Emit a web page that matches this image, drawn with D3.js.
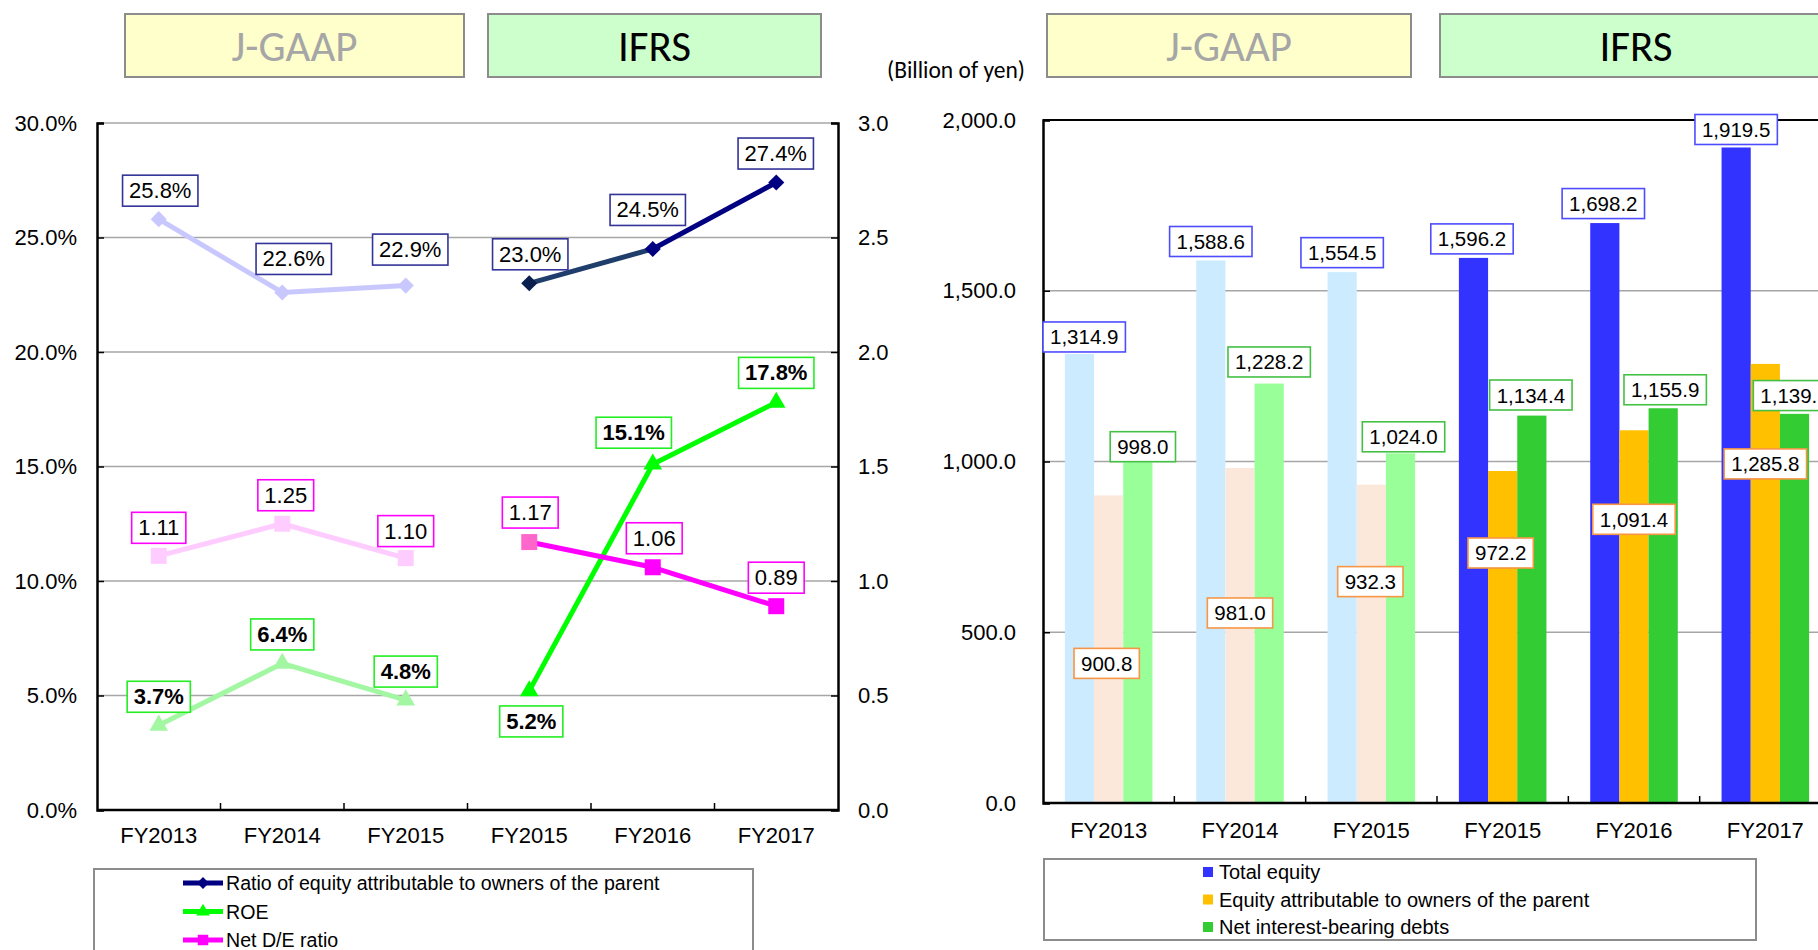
<!DOCTYPE html>
<html>
<head>
<meta charset="utf-8">
<script src="https://cdn.jsdelivr.net/npm/d3@7/dist/d3.min.js"></script>
<style>
  html, body { margin: 0; padding: 0; background: #fff; }
  svg { display: block; }
  text { font-family: "Liberation Sans", Arial, sans-serif; }
  .hdr { font-family: Calibri, Carlito, Lato, sans-serif; }
</style>
</head>
<body>
<svg id="chart" width="1818" height="950"></svg>
<script>
// ---- data -------------------------------------------------------------
const categories = ["FY2013", "FY2014", "FY2015", "FY2015", "FY2016", "FY2017"];
const standards  = ["J-GAAP", "J-GAAP", "J-GAAP", "IFRS", "IFRS", "IFRS"];

// ratios (left panel)
const equityRatio = [25.8, 22.6, 22.9, 23.0, 24.5, 27.4];   // %
const roe         = [3.7, 6.4, 4.8, 5.2, 15.1, 17.8];        // %
const netDERatio  = [1.11, 1.25, 1.10, 1.17, 1.06, 0.89];    // times

// balances (right panel, billion of yen)
const totalEquity  = [1314.9, 1588.6, 1554.5, 1596.2, 1698.2, 1919.5];
const ownersEquity = [900.8, 981.0, 932.3, 972.2, 1091.4, 1285.8];
const netDebts     = [998.0, 1228.2, 1024.0, 1134.4, 1155.9, 1139.5];

const pctTicks   = [0, 5, 10, 15, 20, 25, 30];
const timesTicks = [0, 0.5, 1.0, 1.5, 2.0, 2.5, 3.0];
const yenTicks   = [0, 500, 1000, 1500, 2000];

const lineLegend = ["Ratio of equity attributable to owners of the parent", "ROE", "Net D/E ratio"];
const barLegend  = ["Total equity", "Equity attributable to owners of the parent", "Net interest-bearing debts"];

// ---- layout / style ----------------------------------------------------
const svg = d3.select("#chart");
svg.append("rect").attr("width", 1818).attr("height", 950).attr("fill", "#fff");

const idx = d3.range(categories.length);
const fmtPct = v => d3.format(".1f")(v) + "%";
const fmtTimes = d3.format(".2f");
const fmtYen = d3.format(",.1f");

function header(x0, x1, y0, y1, label, fill, color) {
  svg.append("rect").attr("x", x0).attr("y", y0).attr("width", x1 - x0).attr("height", y1 - y0)
    .attr("fill", fill).attr("stroke", "#8c8c8c").attr("stroke-width", 2);
  svg.append("text").attr("class", "hdr").attr("x", (x0 + x1) / 2).attr("y", (y0 + y1) / 2 + 1)
    .attr("text-anchor", "middle").attr("dominant-baseline", "central")
    .attr("font-size", 43).attr("fill", color).text(label);
}

// label box: white rect with coloured outline, text centred at (cx, cy)
function labelBox(g, cx, cy, txt, stroke, opts) {
  const o = Object.assign({ size: 22, bold: false, padX: 6.5, h: 31 }, opts || {});
  const grp = g.append("g");
  const rect = grp.append("rect");
  const t = grp.append("text").attr("x", cx).attr("y", cy)
    .attr("text-anchor", "middle").attr("dominant-baseline", "central")
    .attr("font-size", o.size).attr("font-weight", o.bold ? "bold" : "normal")
    .attr("fill", "#000").text(txt);
  const w = t.node().getComputedTextLength() + 2 * o.padX;
  let left = cx - w / 2;
  if (o.minLeft !== undefined && left < o.minLeft) {
    left = o.minLeft;
    t.attr("x", left + w / 2);
  }
  rect.attr("x", left).attr("y", cy - o.h / 2).attr("width", w).attr("height", o.h)
    .attr("fill", "#fff").attr("stroke", stroke).attr("stroke-width", 1.6);
}

// ======================= LEFT PANEL: ratios =============================
header(125, 464, 14, 77, "J-GAAP", "#FFFFCC", "#A6A6A6");
header(488, 821, 14, 77, "IFRS", "#CCFFCC", "#000");

const L = { left: 97, right: 838, top: 123, bottom: 810 };
const xL = d3.scaleBand().domain(idx).range([L.left, L.right]);
const cxL = i => xL(i) + xL.bandwidth() / 2;
const yPct = d3.scaleLinear().domain([0, 30]).range([L.bottom, L.top]);
const yTimes = d3.scaleLinear().domain([0, 3]).range([L.bottom, L.top]);

const gl = svg.append("g");
// horizontal gridlines
gl.append("g").selectAll("line").data(pctTicks.filter(d => d > 0)).join("line")
  .attr("x1", L.left).attr("x2", L.right)
  .attr("y1", d => yPct(d)).attr("y2", d => yPct(d))
  .attr("stroke", "#a6a6a6").attr("stroke-width", 1.6);

// axes
const axL = gl.append("g").attr("transform", `translate(${L.left},0)`)
  .call(d3.axisLeft(yPct).tickValues(pctTicks).tickFormat(d => d3.format(".1f")(d) + "%")
    .tickSize(-7).tickPadding(20));
const axR = gl.append("g").attr("transform", `translate(${L.right},0)`)
  .call(d3.axisRight(yTimes).tickValues(timesTicks).tickFormat(d3.format(".1f"))
    .tickSize(-7).tickPadding(20));
const axB = gl.append("g").attr("transform", `translate(0,${L.bottom})`)
  .call(d3.axisBottom(xL).tickFormat(i => categories[i]).tickSize(0).tickPadding(17));
[axL, axR, axB].forEach(a => {
  a.select(".domain").attr("stroke", "#000").attr("stroke-width", 2.5);
  a.selectAll(".tick line").attr("stroke", "#000").attr("stroke-width", 1.5);
  a.selectAll("text").attr("font-size", 22).attr("fill", "#000")
    .style("font-family", '"Liberation Sans", Arial, sans-serif');
});
axB.select(".domain").attr("d", `M${L.left},0H${L.right}`);
// category dividers on the bottom axis
gl.append("g").selectAll("line").data(idx.slice(1)).join("line")
  .attr("x1", i => xL(i)).attr("x2", i => xL(i))
  .attr("y1", L.bottom).attr("y2", L.bottom - 7)
  .attr("stroke", "#000").attr("stroke-width", 1.5);

// series styles
const seriesL = [
  { values: equityRatio, y: yPct, fmt: fmtPct, bold: false, box: "#333399",
    seg: ["#C8C8FF", "#C8C8FF", null, "#1F3E6B", "#000080"],
    pt: ["#C8C8FF", "#C8C8FF", "#C8C8FF", "#0A1F4D", "#000080", "#000080"],
    symbol: d3.symbolSquare, size: 130, rotate: 45,
    shift: [[1.5, -28.5], [11.5, -33.5], [4.5, -36], [1, -29], [-5, -39], [-0.5, -29]] },
  { values: roe, y: yPct, fmt: fmtPct, bold: true, box: "#22EE22",
    seg: ["#A3F7A3", "#A3F7A3", null, "#00FF00", "#00FF00"],
    pt: ["#A3F7A3", "#A3F7A3", "#A3F7A3", "#00FF00", "#00FF00", "#00FF00"],
    symbol: d3.symbolTriangle, size: 150, rotate: 0,
    shift: [[0, -28.5], [0, -29], [0, -28.5], [2, 30.5], [-19, -31.5], [0, -29.5]] },
  { values: netDERatio, y: yTimes, fmt: fmtTimes, bold: false, box: "#FF00FF",
    seg: ["#FFCCFF", "#FFCCFF", null, "#FF00FF", "#FF00FF"],
    pt: ["#FFCCFF", "#FFCCFF", "#FFCCFF", "#FF66CC", "#FF00FF", "#FF00FF"],
    symbol: d3.symbolSquare, size: 256, rotate: 0,
    shift: [[0, -28], [3.5, -28.5], [0, -27], [1, -29.5], [1.5, -29], [0, -28.5]] }
];

const lineGen = d3.line();
const gLines = svg.append("g");
seriesL.forEach(s => {
  idx.slice(0, -1).forEach(i => {
    if (!s.seg[i]) return;
    gLines.append("path")
      .attr("d", lineGen([[cxL(i), s.y(s.values[i])], [cxL(i + 1), s.y(s.values[i + 1])]]))
      .attr("fill", "none").attr("stroke", s.seg[i]).attr("stroke-width", 5);
  });
  idx.forEach(i => {
    gLines.append("path")
      .attr("d", d3.symbol(s.symbol, s.size)())
      .attr("transform", `translate(${cxL(i)},${s.y(s.values[i])}) rotate(${s.rotate})`)
      .attr("fill", s.pt[i]);
  });
});
const gLabL = svg.append("g");
seriesL.forEach(s => {
  idx.forEach(i => {
    labelBox(gLabL, cxL(i) + s.shift[i][0], s.y(s.values[i]) + s.shift[i][1],
      s.fmt(s.values[i]), s.box, { size: 22, bold: s.bold, padX: 6.5, h: 31 });
  });
});

// legend (left)
const lgL = svg.append("g");
lgL.append("rect").attr("x", 94).attr("y", 869).attr("width", 659).attr("height", 100)
  .attr("fill", "#fff").attr("stroke", "#8c8c8c").attr("stroke-width", 2);
const legendSeries = [
  { color: "#000080", symbol: d3.symbolSquare, size: 70, rotate: 45 },
  { color: "#00FF00", symbol: d3.symbolTriangle, size: 80, rotate: 0 },
  { color: "#FF00FF", symbol: d3.symbolSquare, size: 110, rotate: 0 }
];
lineLegend.forEach((name, k) => {
  const yy = 883 + k * 28.5;
  const st = legendSeries[k];
  lgL.append("line").attr("x1", 183).attr("x2", 223).attr("y1", yy).attr("y2", yy)
    .attr("stroke", st.color).attr("stroke-width", 5);
  lgL.append("path").attr("d", d3.symbol(st.symbol, st.size)())
    .attr("transform", `translate(203,${yy}) rotate(${st.rotate})`).attr("fill", st.color);
  lgL.append("text").attr("x", 226).attr("y", yy).attr("dominant-baseline", "central")
    .attr("font-size", 19.6).attr("fill", "#000").text(name);
});

// ======================= RIGHT PANEL: balances ==========================
header(1047, 1411, 14, 77, "J-GAAP", "#FFFFCC", "#A6A6A6");
header(1440, 1832, 14, 77, "IFRS", "#CCFFCC", "#000");
svg.append("text").attr("class", "hdr").attr("x", 887).attr("y", 70)
  .attr("dominant-baseline", "central").attr("font-size", 23.5).attr("fill", "#000")
  .text("(Billion of yen)");

const R = { left: 1043, right: 1831, top: 120, bottom: 803 };
const xR = d3.scaleBand().domain(idx).range([R.left, R.right]);
const xSub = d3.scaleBand().domain([0, 1, 2]).range([0, xR.bandwidth()]).paddingInner(0).paddingOuter(0.75);
const yYen = d3.scaleLinear().domain([0, 2000]).range([R.bottom, R.top]);

const gr = svg.append("g");
gr.append("g").selectAll("line").data(yenTicks.filter(d => d > 0 && d < 2000)).join("line")
  .attr("x1", R.left).attr("x2", R.right)
  .attr("y1", d => yYen(d)).attr("y2", d => yYen(d))
  .attr("stroke", "#a6a6a6").attr("stroke-width", 1.6);
gr.append("line").attr("x1", R.left).attr("x2", R.right)
  .attr("y1", yYen(2000)).attr("y2", yYen(2000)).attr("stroke", "#000").attr("stroke-width", 2);

const barSeries = [
  { values: totalEquity,  fill: ["#CCEBFF", "#3333FF"], box: "#4D4DFF" },
  { values: ownersEquity, fill: ["#FCE8DA", "#FFC000"], box: "#F79646" },
  { values: netDebts,     fill: ["#99FF99", "#33CC33"], box: "#44C044" }
];
const gBars = gr.append("g");
barSeries.forEach((s, k) => {
  gBars.selectAll(null).data(idx).join("rect")
    .attr("x", i => xR(i) + xSub(k))
    .attr("y", i => yYen(s.values[i]))
    .attr("width", xSub.bandwidth())
    .attr("height", i => yYen(0) - yYen(s.values[i]))
    .attr("fill", i => standards[i] === "IFRS" ? s.fill[1] : s.fill[0]);
});

const axRL = gr.append("g").attr("transform", `translate(${R.left},0)`)
  .call(d3.axisLeft(yYen).tickValues(yenTicks).tickFormat(fmtYen).tickSize(-7).tickPadding(27));
const axRB = gr.append("g").attr("transform", `translate(0,${R.bottom})`)
  .call(d3.axisBottom(xR).tickFormat(i => categories[i]).tickSize(0).tickPadding(19));
[axRL, axRB].forEach(a => {
  a.select(".domain").attr("stroke", "#000").attr("stroke-width", 2.5);
  a.selectAll(".tick line").attr("stroke", "#000").attr("stroke-width", 1.5);
  a.selectAll("text").attr("font-size", 22).attr("fill", "#000")
    .style("font-family", '"Liberation Sans", Arial, sans-serif');
});
axRB.select(".domain").attr("d", `M${R.left},0H${R.right}`);
gr.append("g").selectAll("line").data(idx.slice(1)).join("line")
  .attr("x1", i => xR(i)).attr("x2", i => xR(i))
  .attr("y1", R.bottom).attr("y2", R.bottom - 7)
  .attr("stroke", "#000").attr("stroke-width", 1.5);

// value labels on bars
const totalShift = [[0, -17], [0, -19], [0, -19.5], [-1.5, -19], [-1.5, -19.5], [0, -18]];
const ownersShift = [[-2, 168], [0, 145], [-1, 97], [-2, 82], [0, 89], [0, 100]];
const debtsShift = [[5, -15.5], [0, -21.6], [3, -16.5], [-1, -20.6], [2, -18.5], [0, -18.3]];
const shifts = [totalShift, ownersShift, debtsShift];
const gLabR = gr.append("g");
barSeries.forEach((s, k) => {
  idx.forEach(i => {
    const cx = xR(i) + xSub(k) + xSub.bandwidth() / 2 + shifts[k][i][0];
    const cy = yYen(s.values[i]) + shifts[k][i][1];
    labelBox(gLabR, cx, cy, fmtYen(s.values[i]), s.box,
      { size: 20.5, padX: 7, h: 30, minLeft: R.left });
  });
});

// legend (right)
const lgR = svg.append("g");
lgR.append("rect").attr("x", 1044).attr("y", 859).attr("width", 712).attr("height", 81)
  .attr("fill", "#fff").attr("stroke", "#8c8c8c").attr("stroke-width", 2);
const swatch = ["#3333FF", "#FFC000", "#33CC33"];
barLegend.forEach((name, k) => {
  const yy = 872 + k * 27.5;
  lgR.append("rect").attr("x", 1203).attr("y", yy - 5).attr("width", 10).attr("height", 10)
    .attr("fill", swatch[k]);
  lgR.append("text").attr("x", 1219).attr("y", yy).attr("dominant-baseline", "central")
    .attr("font-size", 20).attr("fill", "#000").text(name);
});
</script>
</body>
</html>
